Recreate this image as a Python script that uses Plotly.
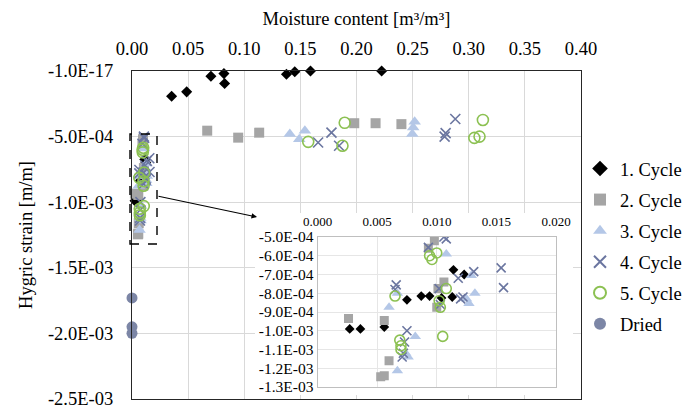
import plotly.graph_objects as go

# ---------------- data ----------------
c1_mc = [0.0027, 0.0036, 0.0056, 0.0075, 0.0087, 0.0094, 0.0104, 0.0113, 0.0114, 0.0123,
         0.0353, 0.0487, 0.0703, 0.0819, 0.0825, 0.1376, 0.145, 0.159, 0.2224]
c1_strain = [-9.9e-4, -9.9e-4, -9.8e-4, -8.35e-4, -8.15e-4, -8.15e-4, -8.25e-4, -8.2e-4, -6.75e-4, -7.0e-4,
             -1.92e-4, -1.59e-4, -0.4e-4, -0.2e-4, -0.95e-4, -0.25e-4, -0.05e-4, 0.0, 0.0]

c2_mc = [0.0026, 0.0056, 0.0060, 0.0053, 0.0056, 0.0093, 0.0098, 0.0101, 0.0106, 0.0100,
         0.067, 0.0946, 0.1133, 0.198, 0.217, 0.240]
c2_strain = [-9.35e-4, -9.45e-4, -1.16e-3, -1.245e-3, -1.24e-3, -5.6e-4, -5.2e-4, -7.75e-4, -7.4e-4, -8.75e-4,
             -4.55e-4, -5.08e-4, -4.7e-4, -3.98e-4, -3.98e-4, -4.05e-4]

c3_mc = [0.0060, 0.0067, 0.0067, 0.0076, 0.0074, 0.0082, 0.0108, 0.0129, 0.0132, 0.0125, 0.0127,
         0.1406, 0.149, 0.154, 0.2497, 0.2518, 0.2505]
c3_strain = [-8.75e-4, -8.0e-4, -1.213e-3, -1.14e-3, -1.12e-3, -1.03e-3, -5.9e-4, -7.05e-4, -8.0e-4, -8.3e-4, -8.55e-4,
             -4.8e-4, -5.2e-4, -4.55e-4, -4.8e-4, -3.86e-4, -4.3e-4]

c4_mc = [0.0066, 0.0065, 0.0075, 0.0073, 0.0072, 0.0071, 0.0093, 0.0106, 0.0108, 0.0102, 0.0103,
         0.0118, 0.0122, 0.0120, 0.0131, 0.0154, 0.0156,
         0.1658, 0.1777, 0.1845, 0.2785, 0.2794, 0.288]
c4_strain = [-7.55e-4, -7.8e-4, -1.0e-3, -1.06e-3, -1.12e-3, -1.14e-3, -5.55e-4, -5.0e-4, -5.1e-4, -7.75e-4, -8.6e-4,
             -7.2e-4, -8.2e-4, -8.3e-4, -6.85e-4, -6.65e-4, -7.7e-4,
             -5.45e-4, -4.7e-4, -5.7e-4, -5.0e-4, -4.74e-4, -3.66e-4]

c5_mc = [0.0065, 0.0069, 0.0070, 0.0070, 0.0094, 0.0096, 0.0100, 0.0102, 0.0103, 0.0108, 0.0105,
         0.157, 0.1875, 0.1895, 0.305, 0.3096, 0.3126]
c5_strain = [-8.15e-4, -1.05e-3, -1.10e-3, -1.08e-3, -6.0e-4, -6.2e-4, -5.85e-4, -8.4e-4, -8.75e-4, -7.75e-4, -1.03e-3,
             -5.4e-4, -5.7e-4, -3.95e-4, -5.1e-4, -5.0e-4, -3.73e-4]

dried_mc = [0.0, 0.0, 0.0]
dried_strain = [-1.73e-3, -1.95e-3, -2.0e-3]

series_names = ["1. Cycle", "2. Cycle", "3. Cycle", "4. Cycle", "5. Cycle", "Dried"]

main_x_ticks = [0.0, 0.05, 0.10, 0.15, 0.20, 0.25, 0.30, 0.35, 0.40]
main_y_ticks = [0.0, -5e-4, -1e-3, -1.5e-3, -2e-3, -2.5e-3]
main_y_ticktext = ["-1.0E-17", "-5.0E-04", "-1.0E-03", "-1.5E-03", "-2.0E-03", "-2.5E-03"]

inset_x_ticks = [0.000, 0.005, 0.010, 0.015, 0.020]
inset_y_ticks = [-5e-4, -6e-4, -7e-4, -8e-4, -9e-4, -1.0e-3, -1.1e-3, -1.2e-3, -1.3e-3]
inset_y_ticktext = ["-5.0E-04", "-6.0E-04", "-7.0E-04", "-8.0E-04", "-9.0E-04",
                    "-1.0E-03", "-1.1E-03", "-1.2E-03", "-1.3E-03"]

# ---------------- layout geometry ----------------
W, H = 694, 405
L, R, T, B = 132, 581, 71, 399          # main plot box in pixels
PW, PH = R - L, B - T
XR = [0.0, 0.4]
YR = [-2.5004e-3, 0.0]


def px2fx(px):
    return (px - L) / PW


def py2fy(py):
    return (B - py) / PH


def px2dx(px):
    return XR[0] + (px - L) / PW * (XR[1] - XR[0])


def py2dy(py):
    return YR[1] - (py - T) / PH * (YR[1] - YR[0])


FONT = "Liberation Serif"
TXT = "#000000"

styles = [
    dict(symbol="diamond", size=8.5, color="#000000"),
    dict(symbol="square", size=10, color="#a5a5a5"),
    dict(symbol="triangle-up", size=11, color="#b4c7e7"),
    dict(symbol="x-thin-open", size=10, color="#6b76a0", line=dict(width=1.6, color="#6b76a0")),
    dict(symbol="circle-open", size=11, color="#8cc152", line=dict(width=1.6, color="#8cc152")),
    dict(symbol="circle", size=11, color="#7c86a6"),
]
data = [(c1_mc, c1_strain), (c2_mc, c2_strain), (c3_mc, c3_strain),
        (c4_mc, c4_strain), (c5_mc, c5_strain), (dried_mc, dried_strain)]

fig = go.Figure()

# white backdrop behind the inset (decoration, drawn above the main grid)
bx0, bx1 = px2dx(255), px2dx(573)
by0, by1 = py2dy(213), py2dy(395)
fig.add_trace(go.Scatter(x=[bx0, bx1, bx1, bx0, bx0], y=[by0, by0, by1, by1, by0],
                         mode="lines", fill="toself", fillcolor="white",
                         line=dict(width=0, color="white"), hoverinfo="skip",
                         showlegend=False, xaxis="x", yaxis="y"))

for i, ((xs, ys), st, nm) in enumerate(zip(data, styles, series_names)):
    fig.add_trace(go.Scatter(x=xs, y=ys, mode="markers", name=nm, marker=st,
                             legendgroup=f"g{i}", cliponaxis=False,
                             xaxis="x", yaxis="y"))

for i, ((xs, ys), st, nm) in enumerate(zip(data[:5], styles[:5], series_names[:5])):
    st2 = dict(st)
    st2["size"] = st["size"] - 1
    fig.add_trace(go.Scatter(x=xs, y=ys, mode="markers", name=nm, marker=st2,
                             showlegend=False, xaxis="x2", yaxis="y2"))

# dashed selection box and arrow
fig.add_shape(type="rect", xref="paper", yref="paper",
              x0=px2fx(130), x1=px2fx(157), y0=py2fy(244), y1=py2fy(134),
              line=dict(color="#000000", width=1.4, dash="dash"), layer="above")
fig.add_annotation(xref="paper", yref="paper", x=px2fx(257), y=py2fy(217),
                   axref="pixel", ayref="pixel", ax=-100, ay=-21, text="",
                   showarrow=True, arrowhead=2, arrowsize=1, arrowwidth=1.1,
                   arrowcolor="#000000")

fig.update_layout(
    width=W, height=H,
    margin=dict(l=L, r=W - R, t=T, b=H - B),
    paper_bgcolor="white", plot_bgcolor="white",
    font=dict(family=FONT, size=18.5, color=TXT),
    showlegend=True,
    legend=dict(x=px2fx(580), y=py2fy(150), xanchor="left", yanchor="top",
                bgcolor="rgba(0,0,0,0)", traceorder="grouped", tracegroupgap=4,
                font=dict(family=FONT, size=18.5, color=TXT), itemsizing="constant"),
    xaxis=dict(range=XR, side="top", tickvals=main_x_ticks, tickformat=".2f",
               showgrid=True, gridcolor="#d9d9d9", gridwidth=1, zeroline=False,
               showline=True, linecolor="#262626", linewidth=1.3, mirror=True,
               ticks="outside", ticklen=7, tickcolor="rgba(0,0,0,0)",
               tickfont=dict(size=18.5, family=FONT, color=TXT),
               ticklabeloverflow="allow",
               title=dict(text="Moisture content [m³/m³]", standoff=8,
                          font=dict(size=18.5, family=FONT, color=TXT)),
               automargin=False),
    yaxis=dict(range=YR, tickvals=main_y_ticks, ticktext=main_y_ticktext,
               showgrid=True, gridcolor="#d9d9d9", gridwidth=1, zeroline=False,
               showline=True, linecolor="#262626", linewidth=1.3, mirror=True,
               ticks="outside", ticklen=14, tickcolor="rgba(0,0,0,0)",
               tickfont=dict(size=18.5, family=FONT, color=TXT),
               ticklabeloverflow="allow",
               title=dict(text="Hygric strain [m/m]", standoff=10,
                          font=dict(size=18.5, family=FONT, color=TXT)),
               automargin=False),
    xaxis2=dict(domain=[px2fx(317.5), px2fx(556)], anchor="y2", side="top",
                range=[0.0, 0.02], tickvals=inset_x_ticks, tickformat=".3f",
                showgrid=True, gridcolor="#e6e6e6", gridwidth=1, zeroline=False,
                showline=True, linecolor="#bfbfbf", linewidth=1, mirror=True,
                ticks="outside", ticklen=5, tickcolor="rgba(0,0,0,0)",
                tickfont=dict(size=13, family=FONT, color=TXT), automargin=False),
    yaxis2=dict(domain=[py2fy(387), py2fy(237)], anchor="x2",
                range=[-1.3e-3, -5e-4], tickvals=inset_y_ticks, ticktext=inset_y_ticktext,
                showgrid=True, gridcolor="#e6e6e6", gridwidth=1, zeroline=False,
                showline=True, linecolor="#bfbfbf", linewidth=1, mirror=True,
                ticks="", tickfont=dict(size=15.5, family=FONT, color=TXT),
                automargin=False),
)

fig.write_html("out.html")
